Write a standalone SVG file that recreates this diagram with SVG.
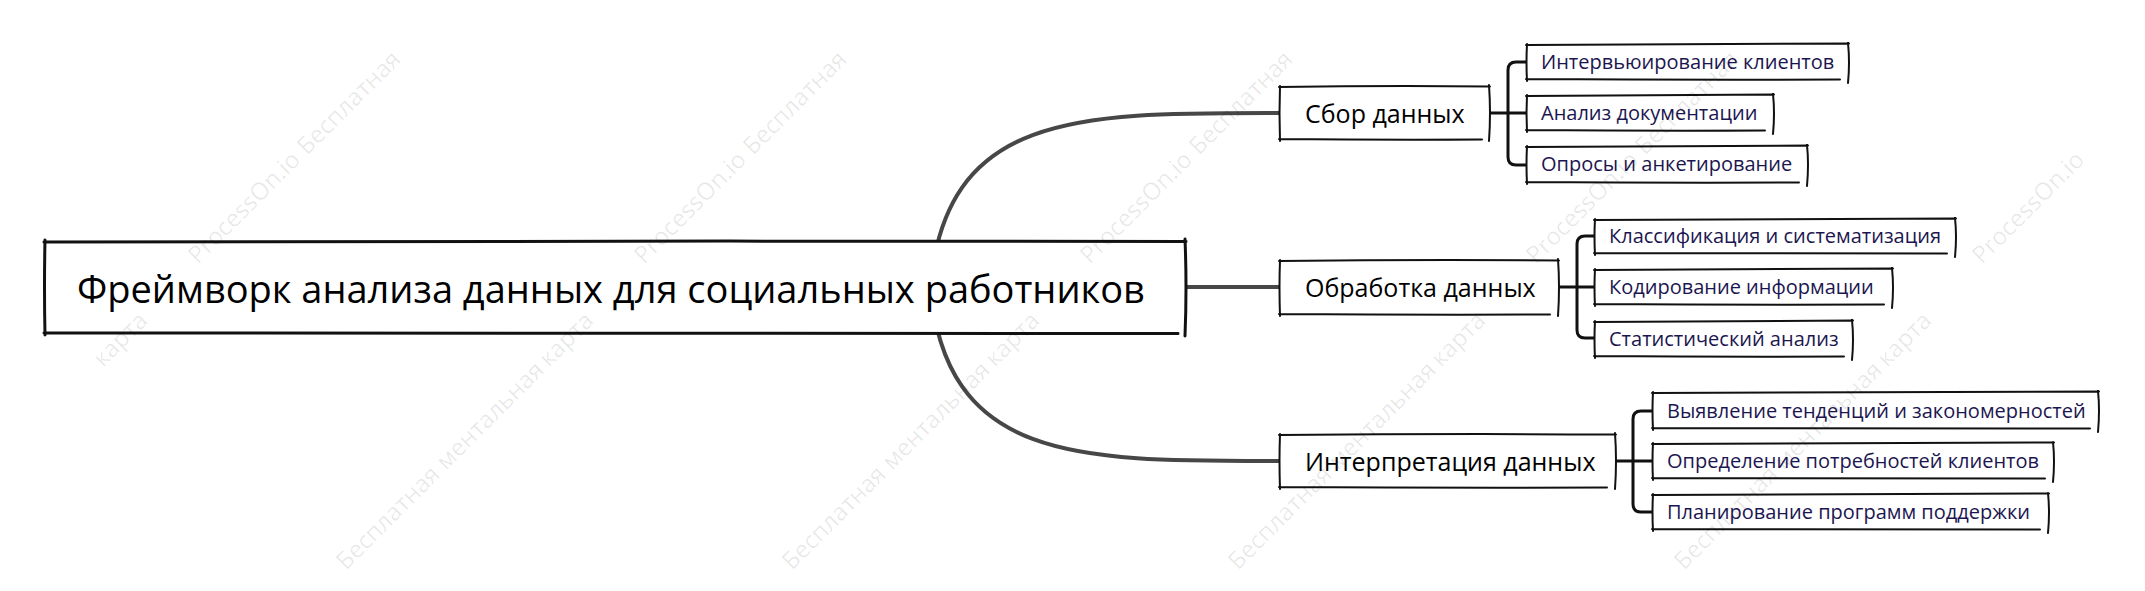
<svg xmlns="http://www.w3.org/2000/svg" width="2145" height="591" viewBox="0 0 2145 591">
<style>
.bg{fill:#fff}
.box{fill:#fff}
.e1{fill:none;stroke:#111;stroke-width:2;stroke-linecap:round}
.e0{fill:none;stroke:#111;stroke-width:3;stroke-linecap:round}
.main{fill:none;stroke:#474747;stroke-width:4}
.sub{fill:none;stroke:#111;stroke-width:3}
.t0{font-family:"Open Sans","Noto Sans",sans-serif;font-size:38px;fill:#000}
.t1{font-family:"Open Sans","Noto Sans",sans-serif;font-size:25px;fill:#000}
.t2{font-family:"Open Sans","Noto Sans",sans-serif;font-size:20px;fill:#1c1650}
.wm{font-family:"Open Sans","Noto Sans",sans-serif;font-size:24px;fill:#000;fill-opacity:0.09}
</style>
<rect class="bg" x="0" y="0" width="2145" height="591"/>
<g id="connectors">
<path class="main" d="M930 290 C945 110 1080 113 1280 113"/>
<path class="main" d="M930 284 C945 464 1080 461 1280 461"/>
<path class="main" d="M1185 287 H1280"/>
<path class="sub" d="M1489 113 H1527"/>
<path class="sub" d="M1527 62 H1516 Q1508 62 1508 70 V157 Q1508 165 1516 165 H1527"/>
<path class="sub" d="M1558 287 H1595"/>
<path class="sub" d="M1595 236 H1585 Q1577 236 1577 244 V330 Q1577 338 1585 338 H1595"/>
<path class="sub" d="M1615 461 H1653"/>
<path class="sub" d="M1653 411 H1641 Q1633 411 1633 419 V504 Q1633 512 1641 512 H1653"/>
</g>
<g id="root">
<rect class="box" x="45" y="242" width="1140" height="91"/>
<path class="e0" d="M44 242 Q615 240.5 1186 241.5 M1185 239 Q1187 287 1185 336 M44 333 Q600 334.5 1178 333.5 M45 240 Q44 287 45 335"/>
<text class="t0" x="77" y="303">Фреймворк анализа данных для социальных работников</text>
</g>
<g id="n-sbor">
<rect class="box" x="1280" y="87" width="209" height="52"/>
<path class="e1" d="M1279 87 Q1385 85.5 1490 86.5 M1489 85 Q1491 113 1489 141 M1279 139 Q1380 140 1482 139.5 M1280 86 Q1279 113 1280 141"/>
<text class="t1" x="1305" y="123">Сбор данных</text>
</g>
<g id="n-obr">
<rect class="box" x="1280" y="261" width="278" height="53"/>
<path class="e1" d="M1279 261 Q1420 259.5 1559 260.5 M1558 259 Q1560 287 1558 316 M1279 314 Q1415 315 1550 314.5 M1280 260 Q1279 287 1280 316"/>
<text class="t1" x="1305" y="297">Обработка данных</text>
</g>
<g id="n-int">
<rect class="box" x="1280" y="435" width="335" height="52"/>
<path class="e1" d="M1279 435 Q1447 433.5 1616 434.5 M1615 433 Q1617 461 1615 489 M1279 487 Q1440 488 1607 487.5 M1280 434 Q1279 461 1280 489"/>
<text class="t1" x="1305" y="471">Интерпретация данных</text>
</g>
<g id="n-1-1">
<rect class="box" x="1527" y="45" width="321" height="34"/>
<path class="e1" d="M1526 45 Q1690 44 1849 43.5 M1848 43 Q1850 62 1848 83 M1526 79 Q1680 80 1840 79.5 M1527 44 Q1526 62 1527 81"/>
<text class="t2" x="1541" y="69">Интервьюирование клиентов</text>
</g>
<g id="n-1-2">
<rect class="box" x="1527" y="96" width="246" height="34"/>
<path class="e1" d="M1526 96 Q1650 95 1774 94.5 M1773 94 Q1775 113 1773 134 M1526 130 Q1645 131 1765 130.5 M1527 95 Q1526 113 1527 132"/>
<text class="t2" x="1541" y="120">Анализ документации</text>
</g>
<g id="n-1-3">
<rect class="box" x="1527" y="147" width="280" height="35"/>
<path class="e1" d="M1526 147 Q1667 146 1808 145.5 M1807 145 Q1809 164 1807 186 M1526 182 Q1662 183 1799 182.5 M1527 146 Q1526 164 1527 184"/>
<text class="t2" x="1541" y="171">Опросы и анкетирование</text>
</g>
<g id="n-2-1">
<rect class="box" x="1595" y="220" width="360" height="33"/>
<path class="e1" d="M1594 220 Q1775 219 1956 218.5 M1955 218 Q1957 236 1955 257 M1594 253 Q1770 254 1947 253.5 M1595 219 Q1594 236 1595 255"/>
<text class="t2" x="1609" y="243">Классификация и систематизация</text>
</g>
<g id="n-2-2">
<rect class="box" x="1595" y="270" width="297" height="34"/>
<path class="e1" d="M1594 270 Q1743 269 1893 268.5 M1892 268 Q1894 287 1892 308 M1594 304 Q1740 305 1884 304.5 M1595 269 Q1594 287 1595 306"/>
<text class="t2" x="1609" y="294">Кодирование информации</text>
</g>
<g id="n-2-3">
<rect class="box" x="1595" y="322" width="257" height="34"/>
<path class="e1" d="M1594 322 Q1723 321 1853 320.5 M1852 320 Q1854 339 1852 360 M1594 356 Q1720 357 1844 356.5 M1595 321 Q1594 339 1595 358"/>
<text class="t2" x="1609" y="346">Статистический анализ</text>
</g>
<g id="n-3-1">
<rect class="box" x="1653" y="393" width="445" height="35"/>
<path class="e1" d="M1652 393 Q1875 392 2099 391.5 M2098 391 Q2100 410 2098 432 M1652 428 Q1870 429 2090 428.5 M1653 392 Q1652 410 1653 430"/>
<text class="t2" x="1667" y="418">Выявление тенденций и закономерностей</text>
</g>
<g id="n-3-2">
<rect class="box" x="1653" y="444" width="400" height="34"/>
<path class="e1" d="M1652 444 Q1853 443 2054 442.5 M2053 442 Q2055 461 2053 482 M1652 478 Q1850 479 2045 478.5 M1653 443 Q1652 461 1653 480"/>
<text class="t2" x="1667" y="468">Определение потребностей клиентов</text>
</g>
<g id="n-3-3">
<rect class="box" x="1653" y="495" width="395" height="34"/>
<path class="e1" d="M1652 495 Q1850 494 2049 493.5 M2048 493 Q2050 512 2048 533 M1652 529 Q1845 530 2040 529.5 M1653 494 Q1652 512 1653 531"/>
<text class="t2" x="1667" y="519">Планирование программ поддержки</text>
</g>
<g id="watermark">
<text class="wm" x="198" y="265" transform="rotate(-45 198 265)">ProcessOn.io</text>
<text class="wm" x="307" y="156" transform="rotate(-45 307 156)">Бесплатная</text>
<text class="wm" x="644" y="265" transform="rotate(-45 644 265)">ProcessOn.io</text>
<text class="wm" x="753" y="156" transform="rotate(-45 753 156)">Бесплатная</text>
<text class="wm" x="1090" y="265" transform="rotate(-45 1090 265)">ProcessOn.io</text>
<text class="wm" x="1199" y="156" transform="rotate(-45 1199 156)">Бесплатная</text>
<text class="wm" x="1536" y="265" transform="rotate(-45 1536 265)">ProcessOn.io</text>
<text class="wm" x="1645" y="156" transform="rotate(-45 1645 156)">Бесплатная</text>
<text class="wm" x="1982" y="265" transform="rotate(-45 1982 265)">ProcessOn.io</text>
<text class="wm" x="103" y="368" transform="rotate(-45 103 368)">карта</text>
<text class="wm" x="346" y="571" transform="rotate(-45 346 571)">Бесплатная</text>
<text class="wm" x="446" y="471" transform="rotate(-45 446 471)">ментальная</text>
<text class="wm" x="549" y="368" transform="rotate(-45 549 368)">карта</text>
<text class="wm" x="792" y="571" transform="rotate(-45 792 571)">Бесплатная</text>
<text class="wm" x="892" y="471" transform="rotate(-45 892 471)">ментальная</text>
<text class="wm" x="995" y="368" transform="rotate(-45 995 368)">карта</text>
<text class="wm" x="1238" y="571" transform="rotate(-45 1238 571)">Бесплатная</text>
<text class="wm" x="1338" y="471" transform="rotate(-45 1338 471)">ментальная</text>
<text class="wm" x="1441" y="368" transform="rotate(-45 1441 368)">карта</text>
<text class="wm" x="1684" y="571" transform="rotate(-45 1684 571)">Бесплатная</text>
<text class="wm" x="1784" y="471" transform="rotate(-45 1784 471)">ментальная</text>
<text class="wm" x="1887" y="368" transform="rotate(-45 1887 368)">карта</text>
</g>
</svg>
